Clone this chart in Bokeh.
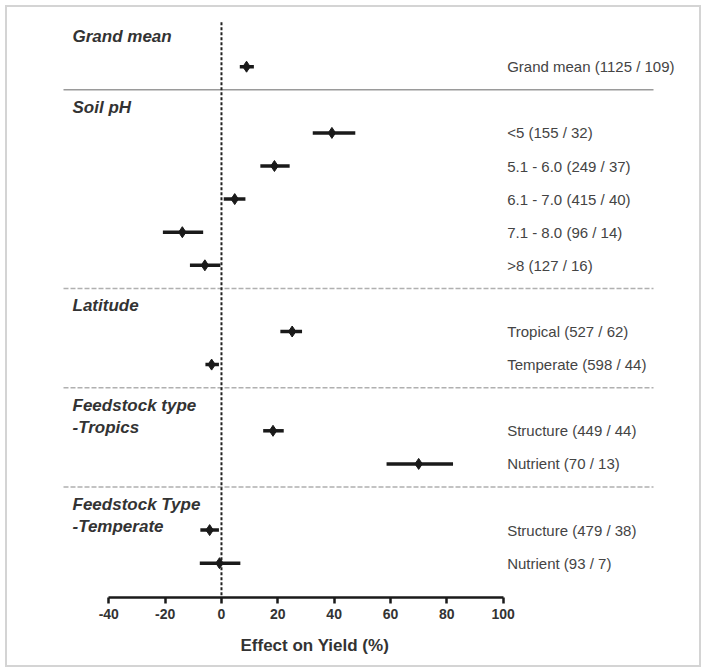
from bokeh.plotting import figure
from bokeh.models import Range1d, FixedTicker, ColumnDataSource, Title
from bokeh.core.properties import value
from bokeh.embed import file_html
from bokeh.resources import INLINE

# ---------------- data ----------------
group_titles = ["Grand mean", "Soil pH", "Latitude",
                "Feedstock type\n-Tropics", "Feedstock Type\n-Temperate"]
group_sizes = [1, 5, 2, 2, 2]
row_labels = ["Grand mean (1125 / 109)",
              "<5 (155 / 32)", "5.1 - 6.0 (249 / 37)", "6.1 - 7.0 (415 / 40)",
              "7.1 - 8.0 (96 / 14)", ">8 (127 / 16)",
              "Tropical (527 / 62)", "Temperate (598 / 44)",
              "Structure (449 / 44)", "Nutrient (70 / 13)",
              "Structure (479 / 38)", "Nutrient (93 / 7)"]
effect = [8.9, 39.2, 18.8, 4.7, -13.9, -5.9, 25.1, -3.5, 18.3, 70.0, -4.2, -0.7]
ci_low = [6.5, 32.4, 13.8, 0.8, -20.8, -11.2, 20.9, -5.7, 14.8, 58.6, -7.5, -7.7]
ci_high = [11.5, 47.5, 24.2, 8.5, -6.5, -0.4, 28.6, -0.9, 22.1, 82.2, -0.9, 6.7]
tick_values = [-40, -20, 0, 20, 40, 60, 80, 100]
tick_labels = ["-40", "-20", "0", "20", "40", "60", "80", "100"]
x_title = "Effect on Yield (%)"

# ---------------- layout rows ----------------
rows, headers, seps = [], [], [0.55]
pos = 0
for size in group_sizes:
    pos += 1
    headers.append(seps[-1])
    for _ in range(size):
        pos += 1
        rows.append(pos)
    seps.append(pos + 0.7)
inner_seps = seps[1:-1]

W, H = 706, 672
frame_bottom_px = 597
bottom_panel = H - frame_bottom_px
row_px = 33.1
y_max = frame_bottom_px / row_px

px_per_unit = 2.817
x_lo_px = 108.3
x_start = tick_values[0] - x_lo_px / px_per_unit
x_end = x_start + W / px_per_unit

p = figure(width=W, height=H, output_backend="svg", toolbar_location=None,
           x_range=Range1d(x_start, x_end), y_range=Range1d(y_max, 0),
           min_border_left=0, min_border_right=0, min_border_top=0,
           min_border_bottom=bottom_panel)
p.yaxis.visible = False
p.xgrid.visible = False
p.ygrid.visible = False
p.outline_line_color = None
p.background_fill_alpha = 0
p.border_fill_alpha = 0
p.styles = {"outline": "2px solid #d4d4d4", "outline-offset": "-7px",
            "background-color": "white"}

# separators
sep_x0 = x_start + 63 / px_per_unit
sep_x1 = x_start + 653 / px_per_unit
p.segment(x0=[sep_x0], x1=[sep_x1], y0=[inner_seps[0]], y1=[inner_seps[0]],
          line_color="#9a9a9a", line_width=1.5)
p.segment(x0=[sep_x0] * (len(inner_seps) - 1), x1=[sep_x1] * (len(inner_seps) - 1),
          y0=inner_seps[1:], y1=inner_seps[1:],
          line_color="#b0b0b0", line_width=1.5, line_dash="5 2")

# zero line
p.segment(x0=[0], x1=[0], y0=[0.66], y1=[y_max],
          line_color="#222222", line_width=2, line_dash="3 2")

src = ColumnDataSource(dict(y=rows, eff=effect, lo=ci_low, hi=ci_high, lab=row_labels))
p.segment(x0="lo", x1="hi", y0="y", y1="y", source=src,
          line_color="#1a1a1a", line_width=3.5)
p.scatter(x="eff", y="y", source=src, marker="diamond", size=11,
          fill_color="#1a1a1a", line_color="#1a1a1a")

# right-hand labels
p.text(x=tick_values[-1], y="y", text="lab", source=src, x_offset=4,
       text_baseline="middle", text_align="left",
       text_font=value("Liberation Sans"), text_font_size="15px",
       text_color="#444444")

# group titles
hsrc = ColumnDataSource(dict(y=headers, t=group_titles))
p.text(x=x_start, y="y", text="t", source=hsrc, x_offset=72, y_offset=8,
       text_baseline="top", text_align="left",
       text_font=value("Liberation Sans"), text_font_size="17px",
       text_font_style="bold italic", text_color="#333333", text_line_height=1.15)

# x axis
ax = p.xaxis[0]
ax.bounds = (tick_values[0], tick_values[-1])
ax.ticker = FixedTicker(ticks=tick_values)
ax.major_label_overrides = {v: l for v, l in zip(tick_values, tick_labels)}
ax.minor_tick_line_color = None
ax.major_tick_in = 0
ax.major_tick_out = 6
ax.major_tick_line_width = 2.5
ax.major_tick_line_color = "#1a1a1a"
ax.axis_line_width = 2.5
ax.axis_line_color = "#1a1a1a"
ax.major_label_standoff = 5
ax.major_label_text_font = "Liberation Sans"
ax.major_label_text_font_style = "bold"
ax.major_label_text_font_size = "14px"
ax.major_label_text_color = "#333333"

# axis title, placed as a bottom title (slightly right of the axis centre)
p.add_layout(Title(text=x_title, align="left", offset=240, standoff=25,
                   text_font="Liberation Sans", text_font_style="bold",
                   text_font_size="17px", text_color="#333333"), "below")

open("out.html", "w").write(file_html(p, INLINE))
